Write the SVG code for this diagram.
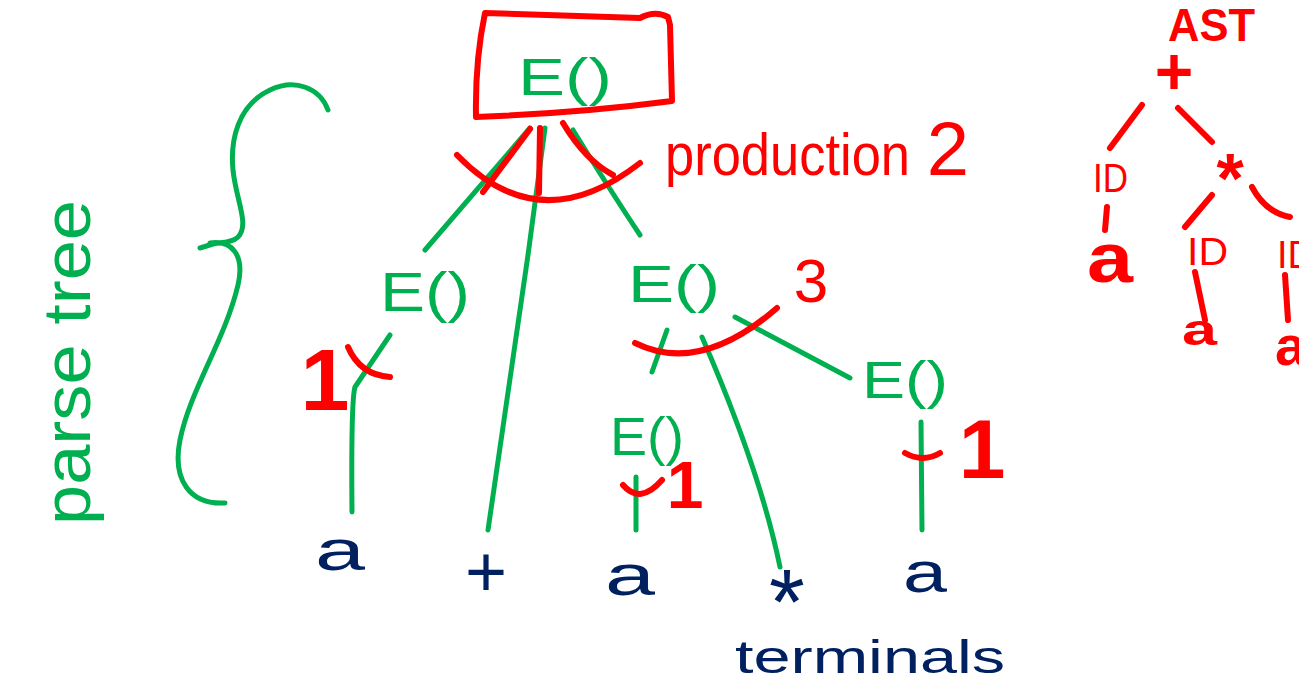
<svg xmlns="http://www.w3.org/2000/svg" width="1299" height="684" viewBox="0 0 1299 684">
<style>
.g{fill:none;stroke:#00b050;stroke-width:5;stroke-linecap:round;stroke-linejoin:round}
.r{fill:none;stroke:#ff0000;stroke-width:6;stroke-linecap:round;stroke-linejoin:round}
.tg{fill:#00b050;font-family:"Liberation Sans",Arial,sans-serif}
.tr{fill:#ff0000;font-family:"Liberation Sans",Arial,sans-serif}
.tb{fill:#002060;font-family:"Liberation Sans",Arial,sans-serif}
</style>
<rect width="1299" height="684" fill="#ffffff"/>

<g id="connectors">
  <path class="g" d="M530,128 L425,250"/>
  <path class="g" d="M545,128 L528,255 L488,530"/>
  <path class="g" d="M573,130 Q610,190 640,235"/>
  <path class="g" d="M390,335 L355,387 Q351,400 352,512"/>
  <path class="g" d="M667,330 L652,372"/>
  <path class="g" d="M702,337 Q760,470 780,567"/>
  <path class="g" d="M735,317 L850,378"/>
  <path class="g" d="M636,477 L636,530"/>
  <path class="g" d="M921,422 L922,530"/>
  <path class="g" d="M328,110 C320,88 295,78 270,90 C238,105 230,140 233,170 C236,200 250,225 238,237 C232,243 222,242 213,244 L200,248"/>
  <path class="g" d="M210,243 C232,240 245,255 238,285 C225,340 190,390 180,440 C172,480 190,505 225,503"/>
  <path class="r" d="M530,129 L483,192"/>
  <path class="r" d="M540,128 L539,193"/>
  <path class="r" d="M563,123 Q585,160 613,175"/>
  <path class="r" d="M457,155 Q540,241 640,163"/>
  <path class="r" d="M635,343 Q700,375 777,308"/>
  <path class="r" d="M348,347 Q360,375 390,377"/>
  <path class="r" d="M623,485 Q640,505 662,480"/>
  <path class="r" d="M905,453 Q923,463 940,453"/>
  <path class="r" d="M1142,105 L1110,148"/>
  <path class="r" d="M1178,108 L1212,142"/>
  <path class="r" d="M1107,207 L1105,230"/>
  <path class="r" d="M1212,195 L1185,227"/>
  <path class="r" d="M1252,187 Q1265,212 1290,217"/>
  <path class="r" d="M1195,272 L1205,320"/>
  <path class="r" d="M1285,275 L1288,320"/>
</g>

<g id="root">
  <path class="r" d="M485,13 L640,18 Q655,10 668,17 L670,25 L672,101 Q580,113 476,117 Q475,60 485,13 Z"/>
  <text class="tg" x="518" y="95" font-size="52" textLength="94" lengthAdjust="spacingAndGlyphs">E()</text>
</g>
<g id="production2">
  <text class="tr" x="665" y="175" font-size="60" textLength="245" lengthAdjust="spacingAndGlyphs">production</text>
  <text class="tr" x="948" y="175" font-size="76" text-anchor="middle">2</text>
</g>
<g id="e-left">
  <text class="tg" x="380" y="311" font-size="56" textLength="90" lengthAdjust="spacingAndGlyphs">E()</text>
</g>
<g id="e-mid">
  <text class="tg" x="628" y="302" font-size="52" textLength="92" lengthAdjust="spacingAndGlyphs">E()</text>
</g>
<g id="e-right">
  <text class="tg" x="862" y="398" font-size="52" textLength="86" lengthAdjust="spacingAndGlyphs">E()</text>
</g>
<g id="e-bottom">
  <text class="tg" x="610" y="455" font-size="54" textLength="74" lengthAdjust="spacingAndGlyphs">E()</text>
</g>
<g id="labels">
  <text class="tr" x="325" y="410" font-size="88" font-weight="bold" text-anchor="middle">1</text>
  <text class="tr" x="685" y="508" font-size="66" font-weight="bold" text-anchor="middle">1</text>
  <text class="tr" x="982" y="478" font-size="84" font-weight="bold" text-anchor="middle">1</text>
  <text class="tr" x="811" y="302" font-size="62" text-anchor="middle">3</text>
</g>
<g id="parse-tree">
  <text class="tg" transform="translate(90,525) rotate(-90)" font-size="66" textLength="325" lengthAdjust="spacingAndGlyphs">parse tree</text>
</g>
<g id="terminals">
  <text class="tb" x="315" y="570" font-size="58" textLength="50" lengthAdjust="spacingAndGlyphs">a</text>
  <text class="tb" x="486" y="596" font-size="72" text-anchor="middle">+</text>
  <text class="tb" x="605" y="595" font-size="58" textLength="50" lengthAdjust="spacingAndGlyphs">a</text>
  <text class="tb" x="787" y="634" font-size="92" text-anchor="middle">*</text>
  <text class="tb" x="903" y="592" font-size="58" textLength="44" lengthAdjust="spacingAndGlyphs">a</text>
  <text class="tb" x="735" y="673" font-size="46" textLength="270" lengthAdjust="spacingAndGlyphs">terminals</text>
</g>
<g id="ast">
  <text class="tr" x="1168" y="41" font-size="46" font-weight="bold" textLength="87" lengthAdjust="spacingAndGlyphs">AST</text>
  <text class="tr" x="1174" y="94" font-size="66" font-weight="bold" text-anchor="middle">+</text>
  <text class="tr" x="1093" y="192" font-size="40" textLength="35" lengthAdjust="spacingAndGlyphs">ID</text>
  <text class="tr" x="1087" y="282" font-size="70" font-weight="bold" textLength="46" lengthAdjust="spacingAndGlyphs">a</text>
  <text class="tr" x="1230" y="203" font-size="70" font-weight="bold" text-anchor="middle">*</text>
  <text class="tr" x="1187" y="265" font-size="38" textLength="41" lengthAdjust="spacingAndGlyphs">ID</text>
  <text class="tr" x="1182" y="345" font-size="44" font-weight="bold" textLength="35" lengthAdjust="spacingAndGlyphs">a</text>
  <text class="tr" x="1277" y="268" font-size="38">ID</text>
  <text class="tr" x="1275" y="365" font-size="56" font-weight="bold">a</text>
</g>
</svg>
